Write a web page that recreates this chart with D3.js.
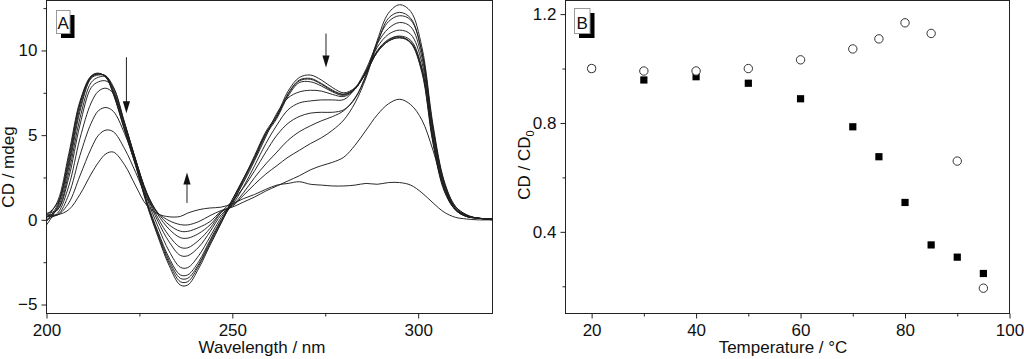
<!DOCTYPE html>
<html><head><meta charset="utf-8">
<script src="https://cdn.jsdelivr.net/npm/d3@7"></script>
<style>
body{margin:0;background:#fff}
svg{display:block}
text{font-family:"Liberation Sans",Arial,sans-serif;fill:#111}
</style>
</head><body>
<svg id="c" width="1024" height="359"></svg>
<script>
// ---------- Panel A data: CD spectra at increasing temperature ----------
const wavelengths = [200,203,206,209,212,214,216,218,221,224,227,230,233,236,238,241,244,247,250,253,256,259,262,265,268,271,274,277,280,283,286,289,292,295,298,301,304,307,310,313,316,320];
const cd20 = [0.1,1.1,3.9,7.0,8.5,8.66,8.4,7.4,5.3,3.2,0.9,-1.0,-2.7,-3.85,-3.85,-2.85,-1.5,-0.2,1.2,2.4,3.8,5.2,6.2,7.6,8.4,8.55,8.25,7.8,7.5,7.8,8.75,9.95,10.6,10.82,10.45,8.7,4.5,1.7,0.6,0.25,0.1,0.05];
const cd30 = [0.3,1.0,3.7,6.9,8.45,8.64,8.42,7.45,5.3,3.2,0.95,-0.9,-2.55,-3.65,-3.65,-2.7,-1.4,-0.15,1.05,2.4,3.7,5.1,6.1,7.4,8.2,8.3,8.0,7.6,7.4,7.75,8.7,9.9,10.55,10.75,10.45,8.8,4.6,1.8,0.6,0.2,0.1,0.05];
const cd40 = [-0.1,0.9,3.5,6.8,8.45,8.62,8.45,7.5,5.4,3.3,1.0,-0.8,-2.4,-3.45,-3.45,-2.6,-1.3,-0.05,1.2,2.45,3.7,5.1,6.1,7.45,8.25,8.35,8.05,7.65,7.42,7.75,8.7,9.9,10.55,10.75,10.5,8.9,4.7,1.8,0.6,0.2,0.1,0.0];
const cd50 = [-0.3,0.8,3.3,6.6,8.4,8.6,8.48,7.6,5.5,3.4,1.1,-0.7,-2.25,-3.25,-3.25,-2.45,-1.2,0.0,0.95,2.3,3.6,5.0,6.0,7.3,8.1,8.15,7.9,7.55,7.35,7.75,8.75,10.0,10.65,10.85,10.6,9.0,4.8,1.9,0.6,0.2,0.1,0.0];
const cd60 = [0.0,0.7,3.1,6.4,8.35,8.55,8.5,7.7,5.6,3.5,1.3,-0.4,-1.85,-2.8,-2.82,-2.1,-1.0,0.15,1.05,2.2,3.5,4.9,6.3,7.2,7.55,7.65,7.6,7.4,7.28,7.7,8.8,10.2,10.95,11.2,10.95,9.3,5.0,2.0,0.6,0.2,0.1,0.05];
const cd70 = [0.2,0.6,2.8,6.0,8.1,8.42,8.45,7.85,5.7,3.55,1.45,-0.1,-1.3,-2.1,-2.12,-1.6,-0.7,0.3,0.9,1.95,3.2,4.5,5.6,6.5,6.9,7.02,7.08,7.08,7.1,7.75,8.9,10.4,11.3,11.65,11.4,9.6,5.2,2.1,0.7,0.25,0.1,0.05];
const cd75 = [0.4,0.6,2.5,5.6,7.8,8.15,8.2,7.8,5.75,3.55,1.55,0.1,-0.95,-1.62,-1.65,-1.2,-0.5,0.45,1.1,1.9,2.9,4.0,5.0,5.7,6.1,6.3,6.35,6.35,6.5,7.15,8.6,10.5,11.7,12.05,11.8,9.9,5.4,2.2,0.7,0.25,0.1,0.05];
const cd80 = [0.0,0.4,2.0,4.8,6.9,7.6,7.77,7.45,5.7,3.5,1.6,0.3,-0.55,-1.05,-1.08,-0.8,-0.3,0.45,0.85,1.6,2.5,3.3,4.0,4.7,5.2,5.55,5.85,6.1,6.45,7.2,8.5,10.6,12.2,12.7,12.3,10.2,5.6,2.3,0.8,0.3,0.1,0.05];
const cd85 = [0.2,0.3,1.5,3.8,5.7,6.45,6.63,6.4,5.1,3.3,1.55,0.4,-0.3,-0.67,-0.68,-0.45,-0.1,0.5,0.8,1.45,2.1,2.7,3.2,3.7,4.1,4.5,4.85,5.3,5.9,6.9,8.4,10.4,11.9,12.25,11.9,9.9,5.4,2.2,0.8,0.3,0.1,0.05];
const cd90 = [0.3,0.3,1.0,2.6,4.2,5.0,5.3,5.2,4.2,2.8,1.3,0.4,-0.05,-0.28,-0.3,-0.1,0.25,0.55,0.75,1.05,1.35,1.7,2.0,2.3,2.6,2.95,3.2,3.4,3.7,4.4,5.3,6.2,6.85,7.12,6.8,5.9,4.1,1.9,0.7,0.25,0.1,0.05];
const cd95 = [0.3,0.3,0.6,1.5,2.7,3.4,3.9,4.0,3.25,2.0,0.85,0.35,0.18,0.2,0.4,0.6,0.7,0.75,0.95,1.25,1.5,1.8,2.05,2.15,2.25,2.1,2.05,2.0,2.0,2.05,2.15,2.1,2.2,2.2,2.05,1.6,1.0,0.45,0.15,0.05,0.0,0.0];
const spectra = [cd20,cd30,cd40,cd50,cd60,cd70,cd75,cd80,cd85,cd90,cd95];

const xTicksA = [200,250,300];
const xMinorA = [225,275];
const yTicksA = [-5,0,5,10];
const yMinorA = [-2.5,2.5,7.5,12.5];
// arrows: wavelength, tail value, tip value
const arrowX = [221.5,237.8,275.2];
const arrowFrom = [9.6,1.0,11.0];
const arrowTo = [6.3,2.8,9.0];

// ---------- Panel B data ----------
const temperatures = [20,30,40,50,60,70,75,80,85,90,95];
const ratioSquares = [1.0,0.958,0.970,0.946,0.889,0.786,0.676,0.508,0.352,0.307,0.247];
const ratioCircles = [1.0,0.991,0.991,1.0,1.032,1.072,1.109,1.168,1.129,0.66,0.193];
const xTicksB = [20,40,60,80,100];
const xMinorB = [30,50,70,90];
const yTicksB = [0.4,0.8,1.2];
const yMinorB = [0.2,0.6,1.0];

const svg = d3.select("#c");
const FS = 17;
const ink = "#222";

function styleAxis(g){
  g.select(".domain").remove();
  g.selectAll("line").attr("stroke",ink);
  g.selectAll("text").attr("font-size",FS).attr("fill","#111").attr("font-family",'"Liberation Sans",Arial,sans-serif');
}

function panel(opts){
  const {x,y,xt,xm,yt,ym,yfmt} = opts;
  const g = svg.append("g");
  const [x0,x1] = x.range(), [y0,y1] = y.range();
  g.append("g").attr("transform",`translate(0,${y0})`)
    .call(d3.axisBottom(x).tickValues(xt).tickSize(5).tickPadding(5).tickFormat(d3.format("d"))).call(styleAxis);
  g.append("g").attr("transform",`translate(0,${y0})`)
    .call(d3.axisBottom(x).tickValues(xm).tickSize(3).tickFormat("")).call(styleAxis);
  g.append("g").attr("transform",`translate(${x0},0)`)
    .call(d3.axisLeft(y).tickValues(yt).tickSize(5).tickPadding(4).tickFormat(yfmt)).call(styleAxis);
  g.append("g").attr("transform",`translate(${x0},0)`)
    .call(d3.axisLeft(y).tickValues(ym).tickSize(3).tickFormat("")).call(styleAxis);
  g.append("rect").attr("x",x0).attr("y",y1).attr("width",x1-x0).attr("height",y0-y1)
    .attr("fill","none").attr("stroke",ink).attr("stroke-width",1);
  return g;
}

function labelBox(x,y,w,h,t){
  svg.append("rect").attr("x",x+4.5).attr("y",y+4.5).attr("width",w).attr("height",h).attr("fill","#000");
  svg.append("rect").attr("x",x).attr("y",y).attr("width",w).attr("height",h).attr("fill","#fff").attr("stroke","#999").attr("stroke-width",1);
  svg.append("text").attr("x",x+w/2).attr("y",y+h-5).attr("text-anchor","middle").attr("font-size",17).text(t);
}

// ---------- Panel A ----------
const xA = d3.scaleLinear().domain([200,320]).range([46.5,492.5]);
const yA = d3.scaleLinear().domain([-5.53,12.95]).range([313.5,0.5]);
const gA = panel({x:xA,y:yA,xt:xTicksA,xm:xMinorA,yt:yTicksA,ym:yMinorA,yfmt:d3.format("d")});

const line = d3.line().x((d,i)=>xA(wavelengths[i])).y(d=>yA(d)).curve(d3.curveCatmullRom.alpha(0.5));
gA.append("g").selectAll("path").data(spectra).join("path")
  .attr("d",line).attr("fill","none").attr("stroke","#1e1e1e").attr("stroke-width",0.95);

arrowX.forEach((w,i)=>{
  const x = xA(w), ya = yA(arrowFrom[i]), yb = yA(arrowTo[i]);
  const dir = yb>ya ? 1 : -1;
  gA.append("line").attr("x1",x).attr("x2",x).attr("y1",ya).attr("y2",yb-dir*10)
    .attr("stroke","#222").attr("stroke-width",1);
  gA.append("path").attr("d",`M${x},${yb}L${x-3.6},${yb-dir*12}L${x+3.6},${yb-dir*12}Z`).attr("fill","#111");
});

svg.append("text").attr("x",262).attr("y",353).attr("text-anchor","middle").attr("font-size",FS).text("Wavelength / nm");
svg.append("text").attr("transform","translate(14,167) rotate(-90)").attr("text-anchor","middle").attr("font-size",FS).text("CD / mdeg");
labelBox(56.5,10.5,13.5,23,"A");

// ---------- Panel B ----------
const xB = d3.scaleLinear().domain([15,100]).range([565.5,1009.5]);
const yB = d3.scaleLinear().domain([0.1,1.25]).range([313.5,0.5]);
const gB = panel({x:xB,y:yB,xt:xTicksB,xm:xMinorB,yt:yTicksB,ym:yMinorB,yfmt:d3.format(".1f")});

gB.append("g").selectAll("rect").data(temperatures).join("rect")
  .attr("x",(d)=>xB(d)-3.6).attr("y",(d,i)=>yB(ratioSquares[i])-3.6)
  .attr("width",7.2).attr("height",7.2).attr("fill","#000");
gB.append("g").selectAll("circle").data(temperatures).join("circle")
  .attr("cx",d=>xB(d)).attr("cy",(d,i)=>yB(ratioCircles[i])).attr("r",4.2)
  .attr("fill","#fff").attr("stroke","#333").attr("stroke-width",1);

svg.append("text").attr("x",783).attr("y",353).attr("text-anchor","middle").attr("font-size",FS).text("Temperature / °C");
const yl = svg.append("text").attr("transform","translate(530,165) rotate(-90)").attr("text-anchor","middle").attr("font-size",FS);
yl.append("tspan").text("CD / CD");
yl.append("tspan").attr("font-size",11).attr("dy",4).text("0");
labelBox(574.5,8.5,15.5,25,"B");
</script>
</body></html>
